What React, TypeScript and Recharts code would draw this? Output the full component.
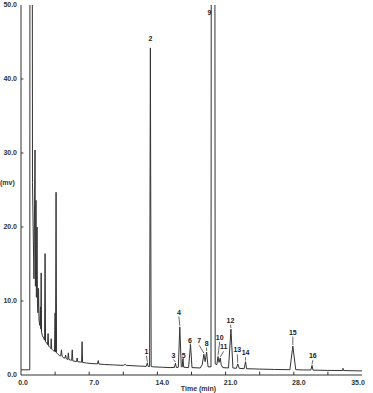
import { LineChart, Line, XAxis, YAxis, ReferenceLine, ReferenceDot } from "recharts";

// solvent front and early volatile peaks (0 - 8 min)
const EARLY_TIMES = [
  0, 0.9, 0.94, 1.12, 1.18, 1.27, 1.33, 1.44, 1.48, 1.54, 1.58, 1.65, 1.69, 1.74, 1.8, 1.85,
  1.93, 2.0, 2.03, 2.07, 2.11, 2.2, 2.32, 2.42, 2.47, 2.52, 2.64, 2.72, 2.78, 2.84, 2.98, 3.06,
  3.1, 3.15, 3.3, 3.44, 3.5, 3.54, 3.6, 3.65, 3.8, 3.97, 4.08, 4.15, 4.22, 4.4, 4.52, 4.58,
  4.65, 4.8, 4.86, 4.92, 5.1, 5.2, 5.26, 5.32, 5.55, 5.7, 5.76, 5.82, 6.1, 6.22, 6.27, 6.32,
  6.7, 7.2, 7.85, 7.93, 8.0,
];
const EARLY_SIGNAL = [
  0.7, 0.7, 120, 120, 26, 18, 13, 30.4, 12, 23.6, 10.5, 20, 9.6, 8.4, 11.7, 7.4,
  6.7, 9.2, 6.2, 13.8, 5.8, 5.3, 5.0, 4.7, 16.4, 4.5, 4.3, 4.1, 5.6, 3.9, 3.7, 3.6,
  4.9, 3.5, 3.3, 3.2, 8.4, 3.1, 24.7, 3.0, 2.8, 2.6, 2.6, 3.4, 2.5, 2.3, 2.3, 2.7,
  2.2, 2.1, 3.0, 2.1, 2.0, 2.0, 3.4, 1.9, 1.85, 1.8, 2.3, 1.8, 1.75, 1.72, 4.5, 1.7,
  1.62, 1.55, 1.5, 1.95, 1.48,
];

// main separation (8 - 35 min)
const LATE_TIMES = [
  8.6, 9.5, 10.5, 10.7, 10.8, 11.5, 12.2, 12.85, 12.97, 13.05, 13.2, 13.28, 13.36, 13.6,
  14.5, 15.3, 15.75, 15.85, 15.95, 16.15, 16.3, 16.45, 16.55, 16.62, 16.7, 17.2, 17.4, 17.55,
  18.4, 18.6, 18.77, 18.9, 19.05, 19.2, 19.5, 19.56, 19.87, 19.93, 20.1, 20.22, 20.32, 20.45,
  20.55, 20.7, 21.3, 21.55, 21.75, 22.1, 22.25, 22.4, 22.9, 23.05, 23.15, 24.5, 26, 27.6,
  27.9, 28.2, 29.0, 29.75, 29.87, 29.97, 31.5, 33.0, 33.05, 33.1, 35,
];
const LATE_SIGNAL = [
  1.42, 1.36, 1.3, 1.45, 1.3, 1.25, 1.2, 1.17, 1.65, 1.15, 1.15, 44.2, 1.15, 1.1,
  1.05, 1.0, 1.02, 1.6, 1.0, 1.05, 6.5, 1.1, 1.1, 2.2, 1.05, 1.0, 4.1, 1.0,
  0.95, 1.4, 2.8, 1.8, 3.1, 1.1, 1.1, 120, 120, 1.5, 1.4, 2.5, 1.7, 2.3,
  1.4, 1.0, 0.95, 6.2, 0.95, 0.9, 1.5, 0.9, 0.85, 1.8, 0.85, 0.8, 0.75, 0.72,
  3.9, 0.72, 0.68, 0.68, 1.3, 0.66, 0.62, 0.6, 0.9, 0.6, 0.55,
];

// peak annotations
const PEAK_IDS = ["1", "2", "3", "4", "5", "6", "7", "8", "9", "10", "11", "12", "13", "14", "15", "16"];
const PEAK_TIMES = [12.97, 13.28, 15.85, 16.3, 16.62, 17.4, 18.77, 19.05, 19.7, 20.22, 20.45, 21.55, 22.25, 23.05, 27.9, 29.87];
const PEAK_TOPS = [1.65, 44.2, 1.6, 6.5, 2.2, 4.1, 2.8, 3.1, 50, 2.5, 2.3, 6.2, 1.5, 1.8, 3.9, 1.3];
const LABEL_TIMES = [12.87, 13.28, 15.65, 16.2, 16.7, 17.35, 18.3, 19.05, 19.35, 20.4, 20.8, 21.5, 22.2, 23.05, 27.9, 29.95];
const LABEL_LEVELS = [3.2, 45.5, 2.7, 8.5, 2.7, 4.6, 4.6, 4.3, 49.0, 5.1, 3.8, 7.4, 3.4, 3.0, 5.8, 2.6];
const NO_LEADER = ["2", "9"];

const TIME_TICKS = [0, 3.5, 7, 10.5, 14, 17.5, 21, 24.5, 28, 31.5, 35];
const SIGNAL_TICKS = [0, 10, 20, 30, 40, 50];

const allTimes = [...EARLY_TIMES, ...LATE_TIMES];
const allSignal = [...EARLY_SIGNAL, ...LATE_SIGNAL];
const trace = allTimes.map((t, i) => ({ time: t, signal: allSignal[i] }));

const FONT = "'Liberation Sans', Arial, sans-serif";

function TimeTick(props: any) {
  const { x, y, payload } = props;
  const v = payload.value as number;
  if (Math.round(v * 10) % 70 !== 0) return null;
  const shift = v === 0 ? 2 : v === 35 ? -4 : 5;
  return (
    <text
      x={x + shift}
      y={y}
      dy="0.71em"
      textAnchor="middle"
      fontSize={7}
      fontWeight="bold"
      fontFamily={FONT}
      fill="#333"
    >
      {v.toFixed(1)}
    </text>
  );
}

export default function App() {
  return (
    <div style={{ position: "absolute", left: 0, top: 0, width: 373, height: 393, background: "#fff" }}>
      <LineChart
        width={373}
        height={393}
        data={trace}
        margin={{ top: 5, right: 11, bottom: 0, left: 0 }}
      >
        <XAxis
          dataKey="time"
          type="number"
          domain={[0, 35]}
          ticks={TIME_TICKS}
          allowDataOverflow
          height={18}
          tickLine={false}
          tickSize={0}
          tickMargin={5}
          tick={<TimeTick />}
          axisLine={{ stroke: "#333", strokeWidth: 1 }}
          label={{
            value: "Time (min)",
            position: "insideBottom",
            offset: 2,
            dx: 7,
            fontSize: 7,
            fontWeight: "bold",
            fontFamily: FONT,
            fill: "#333",
          }}
        />
        <XAxis
          xAxisId="top"
          orientation="top"
          dataKey="time"
          type="number"
          domain={[0, 35]}
          height={0}
          tick={false}
          tickLine={false}
          axisLine={{ stroke: "#555", strokeWidth: 1 }}
        />
        <YAxis
          type="number"
          domain={[0, 50]}
          ticks={SIGNAL_TICKS}
          allowDataOverflow
          width={21}
          tickLine={false}
          tickSize={0}
          tickMargin={4}
          tickFormatter={(v: number) => v.toFixed(1)}
          tick={{ fontSize: 7, fontWeight: "bold", fontFamily: FONT, fill: "#333" }}
          axisLine={{ stroke: "#333", strokeWidth: 1 }}
          label={{
            value: "(mv)",
            position: "insideLeft",
            offset: 0,
            dy: -7,
            fontSize: 7,
            fontWeight: "bold",
            fontFamily: FONT,
            fill: "#333",
          }}
        />
        <YAxis
          yAxisId="right"
          orientation="right"
          type="number"
          domain={[0, 50]}
          width={0}
          tick={false}
          tickLine={false}
          axisLine={{ stroke: "#777", strokeWidth: 2 }}
        />
        {TIME_TICKS.slice(1, -1).map((t) => (
          <ReferenceLine
            key={`xt-${t}`}
            segment={[{ x: t, y: 0 }, { x: t, y: 0.45 }]}
            stroke="#333"
            strokeWidth={1}
          />
        ))}
        {SIGNAL_TICKS.slice(1, -1).map((v) => (
          <ReferenceLine
            key={`yt-${v}`}
            segment={[{ x: 0, y: v }, { x: 0.25, y: v }]}
            stroke="#333"
            strokeWidth={1}
          />
        ))}
        <Line
          type="linear"
          dataKey="signal"
          stroke="#333"
          strokeWidth={1}
          dot={false}
          activeDot={false}
          isAnimationActive={false}
        />
        {PEAK_IDS.filter((id) => !NO_LEADER.includes(id)).map((id) => {
          const i = PEAK_IDS.indexOf(id);
          return (
            <ReferenceLine
              key={`lead-${id}`}
              segment={[
                { x: LABEL_TIMES[i], y: LABEL_LEVELS[i] - 0.6 },
                { x: PEAK_TIMES[i], y: PEAK_TOPS[i] + 0.15 },
              ]}
              stroke="#444"
              strokeWidth={0.8}
            />
          );
        })}
        {PEAK_IDS.map((id, i) => (
          <ReferenceDot
            key={`pk-${id}`}
            x={LABEL_TIMES[i]}
            y={LABEL_LEVELS[i]}
            r={0}
            fill="none"
            stroke="none"
            label={{
              value: id,
              position: "center",
              fontSize: 7,
              fontWeight: "bold",
              fontFamily: FONT,
              fill: "#222",
            }}
          />
        ))}
      </LineChart>
    </div>
  );
}
